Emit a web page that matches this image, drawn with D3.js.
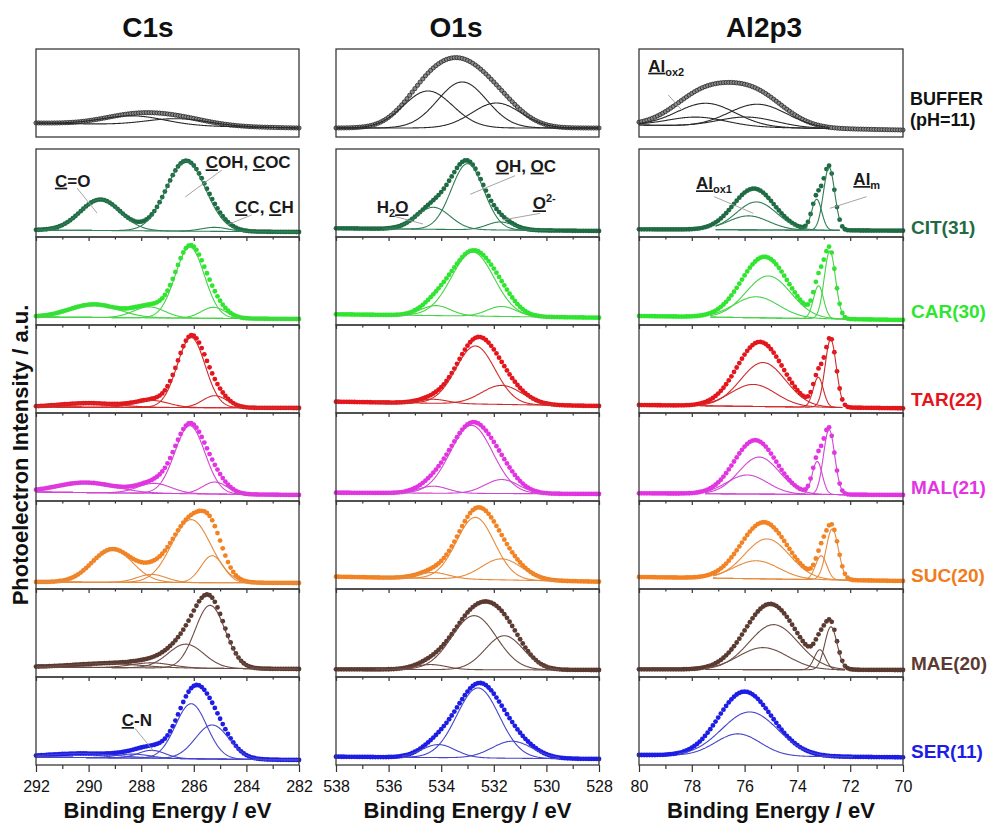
<!DOCTYPE html>
<html><head><meta charset="utf-8">
<script src="https://cdn.jsdelivr.net/npm/d3@7"></script>
<style>
body{margin:0;background:#fff}
svg{display:block}
text{font-family:"Liberation Sans",Arial,Helvetica,sans-serif}
</style>
</head><body>
<svg id="chart" width="990" height="825"></svg>
<script>
// ===================== DATA =====================
const regions = ["C1s", "O1s", "Al2p3"];
const samples = ["BUFFER", "CIT(31)", "CAR(30)", "TAR(22)", "MAL(21)", "SUC(20)", "MAE(20)", "SER(11)"];
const bufferNote = "(pH=11)";
const energyRanges = [[292, 282], [538, 528], [80, 70]];
const majorTicks = [[292, 290, 288, 286, 284, 282], [538, 536, 534, 532, 530, 528], [80, 78, 76, 74, 72, 70]];
const minorTicks = [[291, 289, 287, 285, 283], [537, 535, 533, 531, 529], [79, 77, 75, 73, 71]];
const xTitle = "Binding Energy / eV";
const yTitle = "Photoelectron Intensity / a.u.";
const intensityRange = [0, 88];
const dotStep = 0.1;

// fitted components: [centre eV, height a.u., FWHM eV]
const c1sPeaks = [
  [[288.3, 9, 2.8], [286.6, 7, 2.8]],
  [[289.55, 31, 1.8], [286.3, 70, 1.75], [285.2, 4, 1.2]],
  [[289.8, 13, 2.2], [287.7, 11, 1.4], [286.15, 71, 1.3], [285.25, 11, 1.1]],
  [[290.0, 4, 2.6], [287.6, 7, 1.5], [286.1, 70, 1.25], [285.2, 12, 1.1]],
  [[290.1, 10, 2.6], [287.5, 10, 1.5], [286.15, 68, 1.35], [285.2, 12, 1.1]],
  [[289.1, 33, 1.8], [287.6, 8, 1.3], [286.1, 63, 1.75], [285.3, 27, 1.0]],
  [[289.3, 4, 3.0], [287.6, 5, 1.8], [286.3, 24, 1.6], [285.38, 63, 1.35]],
  [[290.2, 4, 3.0], [288.3, 4, 1.5], [287.6, 8, 1.2], [286.1, 55, 1.4], [285.3, 34, 1.5]]
];
const o1sPeaks = [
  [[534.5, 37, 2.2], [533.2, 46, 2.2], [531.9, 25, 2.2]],
  [[534.3, 22, 1.5], [533.0, 66, 1.45], [531.75, 8, 1.2]],
  [[534.2, 10, 1.3], [532.8, 64, 1.9], [531.7, 10, 1.3]],
  [[534.3, 4, 1.3], [532.7, 58, 1.75], [531.7, 19, 1.8]],
  [[534.3, 7, 1.3], [532.85, 68, 1.9], [531.7, 14, 1.5]],
  [[534.3, 6, 1.4], [532.7, 62, 1.7], [531.7, 21, 1.8]],
  [[534.4, 5, 1.4], [532.75, 54, 2.0], [531.6, 34, 1.7]],
  [[534.1, 13, 1.5], [532.6, 70, 1.9], [531.3, 17, 1.8]]
];
const al2pPeaks = [
  [[77.8, 9, 2.6], [77.45, 23, 2.6], [75.9, 10, 2.6], [75.5, 23, 2.6]],
  [[75.85, 14, 1.8], [75.55, 28, 1.8], [73.27, 31, 0.45], [72.8, 63, 0.5]],
  [[75.55, 21, 2.0], [75.1, 42, 2.0], [73.2, 33, 0.45], [72.77, 68, 0.5]],
  [[75.67, 22, 2.0], [75.3, 44, 2.0], [73.21, 30, 0.45], [72.74, 68, 0.5]],
  [[75.9, 19, 1.8], [75.45, 37, 1.8], [73.25, 33, 0.45], [72.8, 65, 0.5]],
  [[75.55, 18, 2.0], [75.15, 40, 2.0], [73.1, 24, 0.5], [72.68, 51, 0.55]],
  [[75.3, 22, 2.2], [74.9, 45, 2.2], [73.15, 20, 0.5], [72.73, 43, 0.55]],
  [[76.25, 22, 2.0], [75.8, 44, 2.5]]
];
// linear background: [value at high-BE end, value at low-BE end]
const c1sBackground = [[14, 9], [7, 5], [8, 6], [6, 5], [9, 6], [7, 6], [10, 8], [8, 5]];
const o1sBackground = [[9, 9], [8.7, 6], [10.7, 7.3], [11.3, 7], [8.3, 7], [12.3, 7.3], [7.7, 7], [8.3, 6]];
const al2pBackground = [[12, 7], [7.7, 6.3], [9, 5], [8, 4.7], [7.7, 6], [12, 8], [7.7, 7], [10, 7.7]];
// energy window over which fitted components are drawn
const c1sWindow = [[292, 282], [292, 282], [292, 282], [292, 282], [292, 282], [292, 282], [292, 282], [292, 282]];
const o1sWindow = [[538, 528], [536.2, 529.7], [536, 529.6], [536.5, 529.6], [536, 529.6], [536.5, 529.5], [536.5, 529.5], [535.5, 529.5]];
const al2pWindow = [[80, 72.8], [77.1, 72.4], [77.3, 72.1], [77.7, 72.3], [77.5, 72.2], [77.2, 72.0], [77.5, 72.2], [78.5, 71.9]];

// ===================== STYLE =====================
const dotColors  = ["#8a8a8a", "#1f6b44", "#2fe52f", "#e4161c", "#e234e2", "#f28222", "#5b3a31", "#1d1de6"];
const lineColors = ["#2a2a2a", "#2f7d55", "#46d446", "#cf2b2b", "#d245d2", "#e68a3c", "#6d4c45", "#4545cc"];
const labelColors= ["#111111", "#1f6b44", "#2fe52f", "#e4161c", "#e234e2", "#f07c1c", "#5b3a31", "#1d1de6"];

const svg = d3.select("#chart");
const colLeft = [36, 336, 639], colWidth = [263, 263, 264];
const panelH = 88;
const panelTop = r => r === 0 ? 49 : 149 + (r - 1) * panelH;

const peakSets = [c1sPeaks, o1sPeaks, al2pPeaks];
const bgSets = [c1sBackground, o1sBackground, al2pBackground];
const winSets = [c1sWindow, o1sWindow, al2pWindow];

const gauss = (E, p) => { const s = p[2] / 2.3548; return p[1] * Math.exp(-((E - p[0]) ** 2) / (2 * s * s)); };

const scales = {};
for (let c = 0; c < 3; c++) {
  for (let r = 0; r < 8; r++) {
    const top = panelTop(r), bottom = top + panelH;
    const x = d3.scaleLinear().domain(energyRanges[c]).range([colLeft[c], colLeft[c] + colWidth[c]]);
    const y = d3.scaleLinear().domain(intensityRange).range([bottom, top]);
    scales[c + "_" + r] = {x, y};
    const [hi, lo] = energyRanges[c];
    const b = bgSets[c][r];
    const bg = E => b[0] + (b[1] - b[0]) * (hi - E) / (hi - lo);
    const peaks = peakSets[c][r];
    const g = svg.append("g");

    // ticks (not on buffer panel)
    if (r > 0) {
      const last = r === 7;
      const axMaj = d3.axisBottom(x).tickValues(majorTicks[c]).tickSizeInner(last ? 7 : 4).tickSizeOuter(0)
        .tickFormat(last ? d3.format("d") : () => "");
      const axMin = d3.axisBottom(x).tickValues(minorTicks[c]).tickSizeInner(last ? 4 : 2.5).tickSizeOuter(0).tickFormat(() => "");
      const a1 = g.append("g").attr("transform", `translate(0,${bottom})`).call(axMaj);
      const a2 = g.append("g").attr("transform", `translate(0,${bottom})`).call(axMin);
      [a1, a2].forEach(a => {
        a.select(".domain").remove();
        a.selectAll(".tick line").attr("stroke", "#333").attr("stroke-width", 1.2);
      });
      a1.selectAll(".tick text").attr("font-size", 16).attr("fill", "#111").attr("dy", "1.05em")
        .style("font-family", '"Liberation Sans",Arial,sans-serif');
    }

    // dots (measured)
    const es = d3.range(hi, lo - 1e-9, -dotStep);
    const pts = es.map(E => [E, bg(E) + d3.sum(peaks, p => gauss(E, p))]);
    g.append("g").selectAll("circle").data(pts).join("circle")
      .attr("cx", d => x(d[0])).attr("cy", d => y(d[1]))
      .attr("r", r === 0 ? 2.1 : 2.4)
      .attr("fill", dotColors[r])
      .attr("stroke", r === 0 ? "#262626" : "none")
      .attr("stroke-width", 0.8);

    // fitted components
    const w = winSets[c][r];
    const fe = d3.range(w[0], w[1] - 1e-9, -0.02);
    const line = d3.line().x(d => x(d[0])).y(d => y(d[1]));
    peaks.forEach(p => {
      g.append("path").attr("d", line(fe.map(E => [E, bg(E) + gauss(E, p)])))
        .attr("fill", "none").attr("stroke", lineColors[r]).attr("stroke-width", 1.1);
    });

    // frame
    g.append("rect").attr("x", colLeft[c]).attr("y", top).attr("width", colWidth[c]).attr("height", panelH)
      .attr("fill", "none").attr("stroke", "#3a3a3a").attr("stroke-width", 1.3);
  }
}

// column titles
const titleX = [148, 456, 764];
regions.forEach((t, c) => {
  svg.append("text").attr("x", titleX[c]).attr("y", 37).attr("text-anchor", "middle")
    .attr("font-size", 28).attr("font-weight", "bold").attr("fill", "#111").text(t);
  svg.append("text").attr("x", colLeft[c] + colWidth[c] / 2).attr("y", 818).attr("text-anchor", "middle")
    .attr("font-size", 22).attr("font-weight", "bold").attr("fill", "#111").text(xTitle);
});

// y title
svg.append("text").attr("transform", "translate(28,455) rotate(-90)").attr("text-anchor", "middle")
  .attr("font-size", 22).attr("font-weight", "bold").attr("fill", "#111").text(yTitle);

// row labels
samples.forEach((s, r) => {
  if (r === 0) {
    svg.append("text").attr("x", 910).attr("y", 105).attr("font-size", 18).attr("font-weight", "bold")
      .attr("fill", labelColors[0]).text(s);
    svg.append("text").attr("x", 910).attr("y", 126).attr("font-size", 18).attr("font-weight", "bold")
      .attr("fill", labelColors[0]).text(bufferNote);
  } else {
    const bottom = panelTop(r) + panelH;
    svg.append("text").attr("x", 911).attr("y", bottom - (r === 1 ? 3 : 7)).attr("font-size", 19).attr("font-weight", "bold")
      .attr("fill", labelColors[r]).text(s);
  }
});

// annotations: col, row, text position [E, a.u.], parts, leader [E1,v1,E2,v2]
const annotations = [
  {c: 0, r: 1, at: [291.28, 50.3], parts: [["C", "u"], ["=O"]], lead: [290.44, 49, 289.68, 24]},
  {c: 0, r: 1, at: [285.55, 68.7], parts: [["C", "u"], ["OH, "], ["C", "u"], ["OC"]], lead: [284.93, 67, 286.33, 40]},
  {c: 0, r: 1, at: [284.43, 23.7], parts: [["C", "u"], ["C, "], ["C", "u"], ["H"]], lead: [283.8, 22, 284.75, 12]},
  {c: 1, r: 1, at: [536.45, 23.7], parts: [["H"], ["2", "sub"], ["O", "u"]], lead: [535.83, 21, 534.69, 13]},
  {c: 1, r: 1, at: [531.93, 65.3], parts: [["O", "u"], ["H, "], ["O", "u"], ["C"]], lead: [531.19, 61.3, 532.9, 42.7]},
  {c: 1, r: 1, at: [530.52, 27.7], parts: [["O", "u"], ["2-", "sup"]], lead: [530.24, 23.7, 531.66, 17]},
  {c: 2, r: 0, at: [79.65, 65.3], parts: [["Al", "u"], ["ox2", "sub"]], lead: [78.89, 42, 78.38, 27]},
  {c: 2, r: 1, at: [77.84, 47.7], parts: [["Al", "u"], ["ox1", "sub"]], lead: [77.15, 40.3, 75.67, 23.7]},
  {c: 2, r: 1, at: [71.88, 52], parts: [["Al", "u"], ["m", "sub"]], lead: [71.38, 40.3, 72.77, 28.7]},
  {c: 0, r: 7, at: [288.74, 39], parts: [["C", "u"], ["-N"]], lead: [288.24, 36.7, 287.51, 13.3]}
];
annotations.forEach(a => {
  const {x, y} = scales[a.c + "_" + a.r];
  svg.append("line").attr("x1", x(a.lead[0])).attr("y1", y(a.lead[1])).attr("x2", x(a.lead[2])).attr("y2", y(a.lead[3]))
    .attr("stroke", "#9a9a9a").attr("stroke-width", 0.9);
  const t = svg.append("text").attr("x", x(a.at[0])).attr("y", y(a.at[1])).attr("font-size", 17)
    .attr("font-weight", "bold").attr("fill", "#1a1a1a");
  let shift = 0;
  a.parts.forEach(([txt, kind]) => {
    const ts = t.append("tspan").text(txt);
    let target = 0;
    if (kind === "sub") { ts.attr("font-size", 11); target = 4; }
    if (kind === "sup") { ts.attr("font-size", 11); target = -7; }
    if (target !== shift) { ts.attr("dy", target - shift); shift = target; }
    if (kind === "u") ts.style("text-decoration", "underline");
  });
});
</script>
</body></html>
